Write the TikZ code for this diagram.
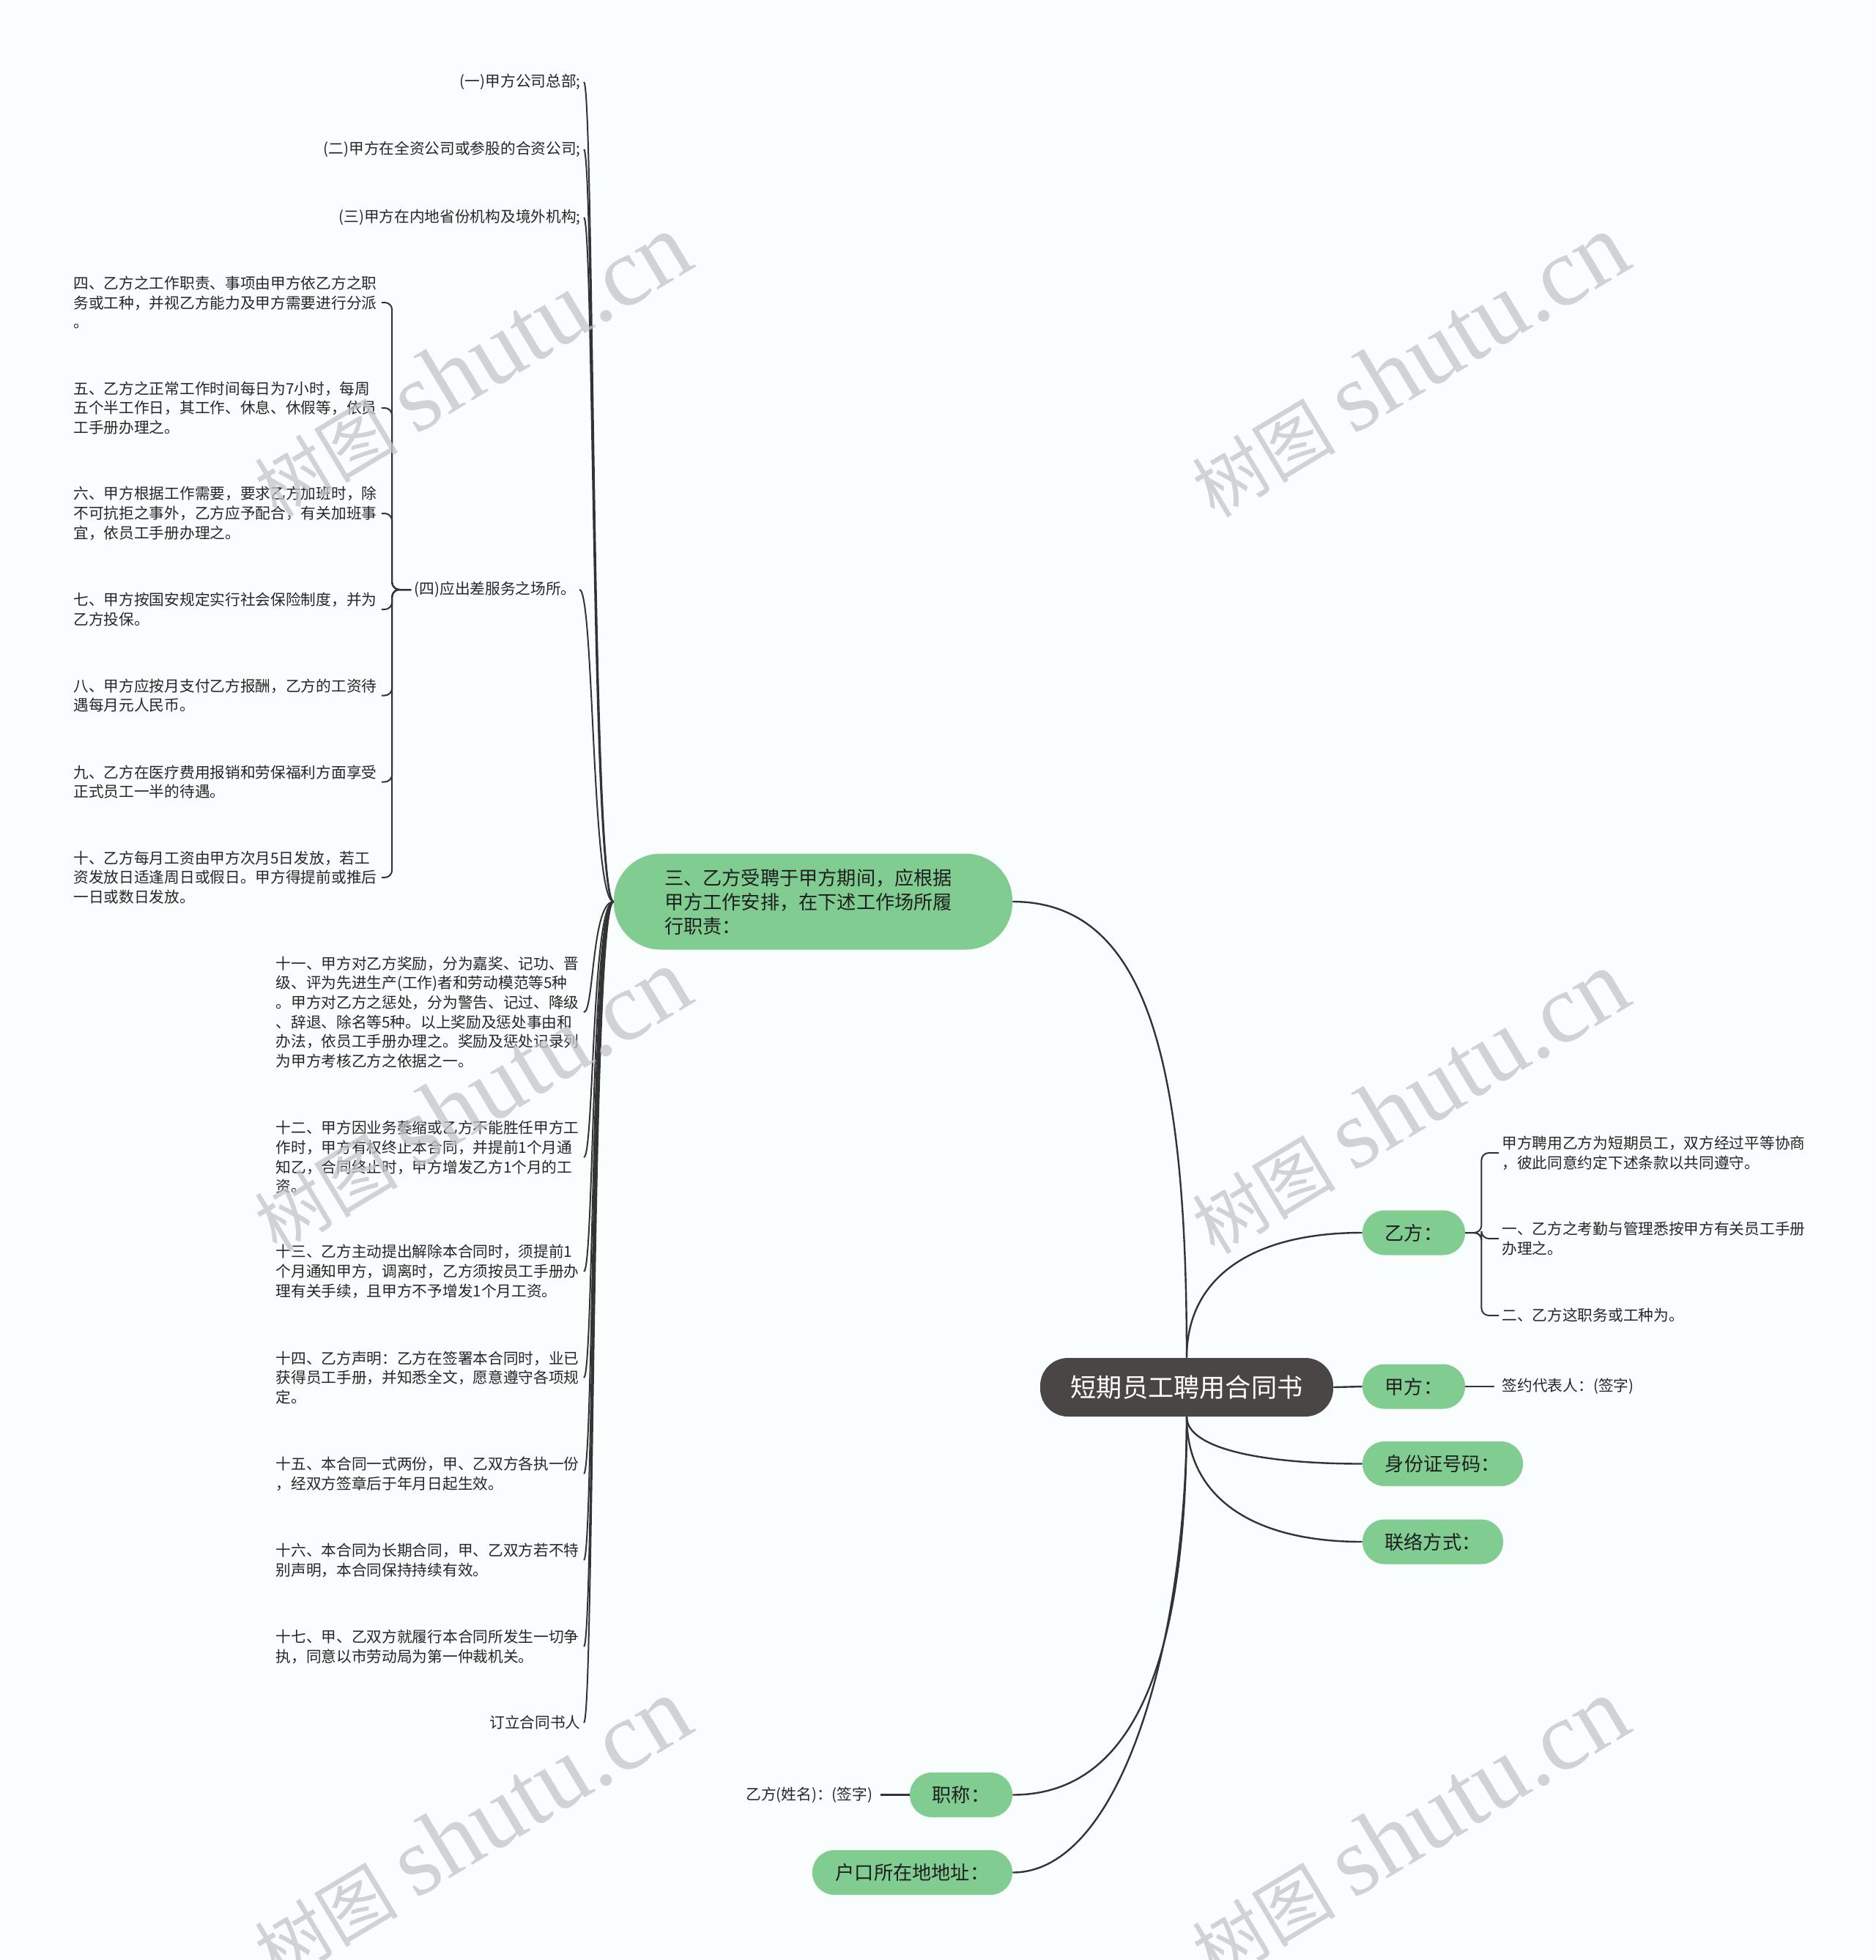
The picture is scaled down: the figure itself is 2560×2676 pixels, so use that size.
\documentclass[tikz,border=0pt]{standalone}
\usepackage{fontspec}
\setmainfont{Noto Sans CJK SC}
\newfontfamily\wmlatin{Liberation Serif}
\usepackage{xcolor}
\usetikzlibrary{positioning}

\definecolor{topicgreen}{HTML}{80CC91}
\definecolor{rootgray}{HTML}{4A4646}
\definecolor{linkgray}{HTML}{333333}
\definecolor{bggray}{HTML}{FAFDFD}
\definecolor{wmgray}{HTML}{C2C6C6}

\newcommand{\wmtext}{{\fontsize{49}{49}\selectfont 树图}\hspace{12pt}{\wmlatin\fontsize{67}{67}\selectfont shutu.cn}}

\begin{document}
\begin{tikzpicture}[
        x=0.5pt, y=-0.5pt,
        % estilos de los nodos
        root/.style={fill=rootgray, text=white, rounded corners=19pt, minimum width=200pt, minimum height=40pt, inner sep=0pt, font=\fontsize{17.6}{21}\selectfont},
        topic/.style={fill=topicgreen, text=black!88, rounded corners=15pt, minimum height=30.5pt, inner sep=0pt, font=\fontsize{13.1}{16.5}\selectfont},
        leaf/.style={text=black!85, inner sep=2pt, font=\fontsize{10.35}{13.35}\selectfont},
        para/.style={leaf, text width=208pt, align=left},
        link/.style={draw=linkgray, line width=1.2pt},
        twig/.style={draw=linkgray, line width=1pt},
        brace/.style={twig, rounded corners=5pt},
        watermark/.style={text=wmgray, opacity=0.75, rotate=31, inner sep=0pt}
    ]
        \useasboundingbox (0,0) rectangle (2560,2676);
        \fill[bggray] (0,0) rectangle (2560,2676);

        % Nodo central y ramas principales
        \node[root] (root) at (1620,1894) {短期员工聘用合同书};
        \node[topic, minimum width=272pt, minimum height=65.5pt, rounded corners=32pt, text width=203pt, align=left] (san) at (1110,1231) {三、乙方受聘于甲方期间，应根据\\甲方工作安排，在下述工作场所履\\行职责：};
        \node[topic, minimum width=70pt] (yi) at (1930,1683) {乙方：};
        \node[topic, minimum width=70pt] (jia) at (1930,1893) {甲方：};
        \node[topic, minimum width=109.5pt] (sfz) at (1969.5,1998.5) {身份证号码：};
        \node[topic, minimum width=96pt] (lianluo) at (1956,2105) {联络方式：};
        \node[topic, minimum width=70pt] (zhicheng) at (1312,2450.5) {职称：};
        \node[topic, minimum width=136.5pt] (hukou) at (1245.5,2556.5) {户口所在地地址：};

        % Hojas de la rama "三"
        \node[leaf, anchor=east] (d1) at (797,112) {(一)甲方公司总部;};
        \node[leaf, anchor=east] (d2) at (797,204) {(二)甲方在全资公司或参股的合资公司;};
        \node[leaf, anchor=east] (d3) at (797,297) {(三)甲方在内地省份机构及境外机构;};
        \node[leaf, anchor=east] (d4) at (791,805) {(四)应出差服务之场所。};
        \node[para, anchor=east] (d11) at (797,1382) {十一、甲方对乙方奖励，分为嘉奖、记功、晋\\级、评为先进生产(工作)者和劳动模范等5种\\。甲方对乙方之惩处，分为警告、记过、降级\\、辞退、除名等5种。以上奖励及惩处事由和\\办法，依员工手册办理之。奖励及惩处记录列\\为甲方考核乙方之依据之一。};
        \node[para, anchor=east] (d12) at (797,1580) {十二、甲方因业务萎缩或乙方不能胜任甲方工\\作时，甲方有权终止本合同，并提前1个月通\\知乙，合同终止时，甲方增发乙方1个月的工\\资。};
        \node[para, anchor=east] (d13) at (797,1736) {十三、乙方主动提出解除本合同时，须提前1\\个月通知甲方，调离时，乙方须按员工手册办\\理有关手续，且甲方不予增发1个月工资。};
        \node[para, anchor=east] (d14) at (797,1881) {十四、乙方声明：乙方在签署本合同时，业已\\获得员工手册，并知悉全文，愿意遵守各项规\\定。};
        \node[para, anchor=east] (d15) at (797,2012) {十五、本合同一式两份，甲、乙双方各执一份\\，经双方签章后于年月日起生效。};
        \node[para, anchor=east] (d16) at (797,2130) {十六、本合同为长期合同，甲、乙双方若不特\\别声明，本合同保持持续有效。};
        \node[para, anchor=east] (d17) at (797,2248) {十七、甲、乙双方就履行本合同所发生一切争\\执，同意以市劳动局为第一仲裁机关。};
        \node[leaf, anchor=east] (d18) at (797,2352) {订立合同书人};

        % Hojas de "(四)"
        \node[para, anchor=west] (s4) at (96,413) {四、乙方之工作职责、事项由甲方依乙方之职\\务或工种，并视乙方能力及甲方需要进行分派\\。};
        \node[para, anchor=west] (s5) at (96,557) {五、乙方之正常工作时间每日为7小时，每周\\五个半工作日，其工作、休息、休假等，依员\\工手册办理之。};
        \node[para, anchor=west] (s6) at (96,701) {六、甲方根据工作需要，要求乙方加班时，除\\不可抗拒之事外，乙方应予配合，有关加班事\\宜，依员工手册办理之。};
        \node[para, anchor=west] (s7) at (96,832) {七、甲方按国安规定实行社会保险制度，并为\\乙方投保。};
        \node[para, anchor=west] (s8) at (96,949.5) {八、甲方应按月支付乙方报酬，乙方的工资待\\遇每月元人民币。};
        \node[para, anchor=west] (s9) at (96,1067.5) {九、乙方在医疗费用报销和劳保福利方面享受\\正式员工一半的待遇。};
        \node[para, anchor=west] (s10) at (96,1198) {十、乙方每月工资由甲方次月5日发放，若工\\资发放日适逢周日或假日。甲方得提前或推后\\一日或数日发放。};

        % Hojas de "乙方" y "甲方"
        \node[para, anchor=west] (y1) at (2046,1574) {甲方聘用乙方为短期员工，双方经过平等协商\\，彼此同意约定下述条款以共同遵守。};
        \node[para, anchor=west] (y2) at (2046,1691) {一、乙方之考勤与管理悉按甲方有关员工手册\\办理之。};
        \node[leaf, anchor=west] (y3) at (2046,1796) {二、乙方这职务或工种为。};
        \node[leaf, right=23pt of jia] (qianyue) {签约代表人：(签字)};
        \node[leaf, left=23pt of zhicheng] (yiname) {乙方(姓名)：(签字)};

        % Conexiones desde el nodo central
        \draw[link] (root.north) .. controls +(0,-400) and +(185,0) .. (san.east);
        \draw[link] (root.north) .. controls +(0,-110) and +(-150,0) .. (yi.west);
        \draw[link] (root.east) -- (jia.west);
        \draw[link] (root.south) .. controls +(0,40) and +(-150,0) .. (sfz.west);
        \draw[link] (root.south) .. controls +(0,110) and +(-150,0) .. (lianluo.west);
        \draw[link] (root.south) .. controls +(0,300) and +(180,0) .. (zhicheng.east);
        \draw[link] (root.south) .. controls +(0,300) and +(150,0) .. (hukou.east);

        % Conexiones de la rama "三"
        \draw[twig] (san.west) .. controls +(-30,0) and +(14,0) .. (d1.east);
        \draw[twig] (san.west) .. controls +(-30,0) and +(14,0) .. (d2.east);
        \draw[twig] (san.west) .. controls +(-30,0) and +(14,0) .. (d3.east);
        \draw[twig] (san.west) .. controls +(-30,0) and +(20,0) .. (d4.east);
        \draw[twig] (san.west) .. controls +(-30,0) and +(14,0) .. (d11.east);
        \draw[twig] (san.west) .. controls +(-30,0) and +(14,0) .. (d12.east);
        \draw[twig] (san.west) .. controls +(-30,0) and +(14,0) .. (d13.east);
        \draw[twig] (san.west) .. controls +(-30,0) and +(14,0) .. (d14.east);
        \draw[twig] (san.west) .. controls +(-30,0) and +(14,0) .. (d15.east);
        \draw[twig] (san.west) .. controls +(-30,0) and +(14,0) .. (d16.east);
        \draw[twig] (san.west) .. controls +(-30,0) and +(14,0) .. (d17.east);
        \draw[twig] (san.west) .. controls +(-30,0) and +(14,0) .. (d18.east);

        % Conexiones de "(四)"
        \draw[brace] (d4.west) -- ++(-26,0) |- (s4.east);
        \draw[brace] (d4.west) -- ++(-26,0) |- (s5.east);
        \draw[brace] (d4.west) -- ++(-26,0) |- (s6.east);
        \draw[brace] (d4.west) -- ++(-26,0) |- (s7.east);
        \draw[brace] (d4.west) -- ++(-26,0) |- (s8.east);
        \draw[brace] (d4.west) -- ++(-26,0) |- (s9.east);
        \draw[brace] (d4.west) -- ++(-26,0) |- (s10.east);

        % Conexiones de "乙方", "甲方" y "职称"
        \draw[brace] (yi.east) -- ++(22,0) |- (y1.west);
        \draw[brace] (yi.east) -- ++(22,0) |- (y2.west);
        \draw[brace] (yi.east) -- ++(22,0) |- (y3.west);
        \draw[link, shorten >=3pt] (jia.east) -- (qianyue.west);
        \draw[link, shorten >=3pt] (zhicheng.west) -- (yiname.east);

        % Marcas de agua
        \begin{scope}
            \clip (0,0) rectangle (2560,2676);
            \node[watermark] (wm1) at (644,499) {\wmtext};
            \node[watermark] (wm2) at (1924,499) {\wmtext};
            \node[watermark] (wm3) at (644,1502) {\wmtext};
            \node[watermark] (wm4) at (1924,1505) {\wmtext};
            \node[watermark] (wm5) at (644,2498) {\wmtext};
            \node[watermark] (wm6) at (1924,2498) {\wmtext};
        \end{scope}
    \end{tikzpicture}
\end{document}
